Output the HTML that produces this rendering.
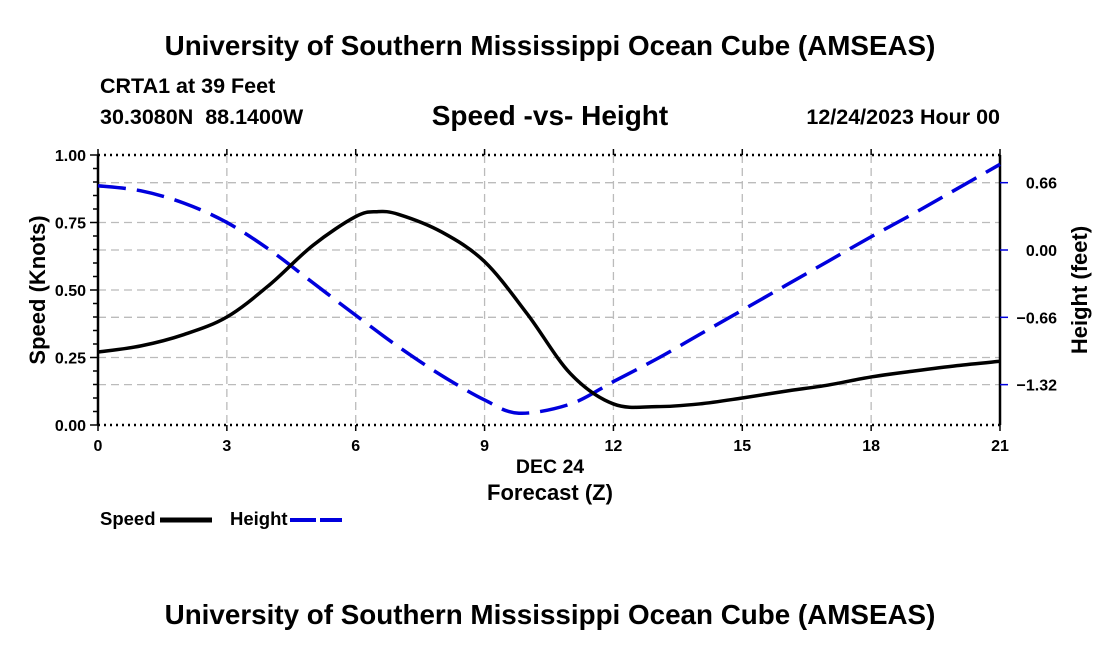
<!DOCTYPE html>
<html><head><meta charset="utf-8"><style>
body{margin:0;background:#fff;}
svg text{font-family:"Liberation Sans",sans-serif;font-weight:bold;fill:#000;white-space:pre;}
</style></head><body>
<svg width="1100" height="650" viewBox="0 0 1100 650">
<text x="550" y="55" text-anchor="middle" font-size="27.8">University of Southern Mississippi Ocean Cube (AMSEAS)</text>
<text x="100" y="93" font-size="21.5">CRTA1 at 39 Feet</text>
<text x="100" y="124" font-size="21.5" xml:space="preserve">30.3080N  88.1400W</text>
<text x="550" y="125" text-anchor="middle" font-size="28">Speed -vs- Height</text>
<text x="1000" y="124" text-anchor="end" font-size="21.5">12/24/2023 Hour 00</text>
<g id="grid"></g>
<g id="axes"></g>
<g id="series"></g>
<text x="550" y="473" text-anchor="middle" font-size="19.5">DEC 24</text>
<text x="550" y="500" text-anchor="middle" font-size="22">Forecast (Z)</text>
<text transform="translate(45,290) rotate(-90)" text-anchor="middle" font-size="22">Speed (Knots)</text>
<text transform="translate(1087,290) rotate(-90)" text-anchor="middle" font-size="22">Height (feet)</text>
<g>
<text x="100" y="525" font-size="18.5">Speed</text>
<line x1="160" y1="520" x2="212" y2="520" stroke="#000" stroke-width="5"/></g>
<g>
<text x="230" y="525" font-size="18.5">Height</text>
<line x1="290" y1="520" x2="342" y2="520" stroke="#0000dd" stroke-width="4" stroke-dasharray="26,4"/></g>
<text x="550" y="624" text-anchor="middle" font-size="27.8">University of Southern Mississippi Ocean Cube (AMSEAS)</text>
</svg>
<script>
const hours=[0,1,2,3,4,5,6,6.5,7,8,9,10,11,12,13,14,15,16,17,18,19,20,21];
const speed=[0.27,0.293,0.335,0.40,0.52,0.665,0.772,0.79,0.78,0.715,0.605,0.41,0.19,0.078,0.068,0.078,0.10,0.125,0.148,0.178,0.20,0.22,0.236];
const heightHours=[0,1,2,3,4,5,6,7,8,9,9.8,11,12,13,14,15,16,17,18,19,20,21];
const heightVals=[0.63,0.58,0.46,0.27,0.0,-0.32,-0.64,-0.95,-1.23,-1.47,-1.60,-1.51,-1.29,-1.07,-0.83,-0.59,-0.35,-0.11,0.13,0.36,0.60,0.84];
const xTicks=[0,3,6,9,12,15,18,21];
const speedTicks=[0,0.25,0.5,0.75,1.0];
const heightTicks=[0.66,0,-0.66,-1.32];
const X0=98,X1=1000,Y0=425,Y1=155;
const x=h=>X0+(h/21)*(X1-X0);
const ys=v=>Y0-v*(Y0-Y1);
const yh=v=>250-v*102;
const NS="http://www.w3.org/2000/svg";
function mk(parent,tag,attrs){const e=document.createElementNS(NS,tag);for(const k in attrs)e.setAttribute(k,attrs[k]);document.getElementById(parent).appendChild(e);return e;}
function smooth(pts){let d='M'+pts[0][0]+','+pts[0][1];for(let i=0;i<pts.length-1;i++){const p0=pts[Math.max(0,i-1)],p1=pts[i],p2=pts[i+1],p3=pts[Math.min(pts.length-1,i+2)];
const c1=[p1[0]+(p2[0]-p0[0])/6,p1[1]+(p2[1]-p0[1])/6],c2=[p2[0]-(p3[0]-p1[0])/6,p2[1]-(p3[1]-p1[1])/6];
d+=' C'+c1[0]+','+c1[1]+' '+c2[0]+','+c2[1]+' '+p2[0]+','+p2[1];}return d;}
xTicks.forEach(t=>{if(t>0&&t<21){const g=mk('grid','line',{x1:x(t),x2:x(t),y1:Y1,y2:Y0,stroke:'#bbb','stroke-width':1.3,'stroke-dasharray':'8,5'});

}});
speedTicks.forEach(t=>{if(t>0&&t<1){const g=mk('grid','line',{x1:X0,x2:X1,y1:ys(t),y2:ys(t),stroke:'#bbb','stroke-width':1.3,'stroke-dasharray':'8,5'});

}});
heightTicks.forEach(t=>{const g=mk('grid','line',{x1:X0,x2:X1,y1:yh(t),y2:yh(t),stroke:'#bbb','stroke-width':1.3,'stroke-dasharray':'8,5'});

});
[[X0,Y1,X0,Y0,'none'],[X1,Y1,X1,Y0,'none'],[X0,Y1,X1,Y1,'2,4'],[X0,Y0,X1,Y0,'2,4']].forEach(a=>{const l=mk('axes','line',{x1:a[0],y1:a[1],x2:a[2],y2:a[3],stroke:'#000','stroke-width':2.5,'stroke-dasharray':a[4]});

});
for(let v=0;v<=1.001;v+=0.05){const l=mk('axes','line',{x1:X0-(Math.abs(v*4-Math.round(v*4))<0.01?8:5),x2:X0,y1:ys(v),y2:ys(v),stroke:'#000','stroke-width':1.5});

}
speedTicks.forEach(t=>{const e=mk('axes','text',{x:X0-12,y:ys(t)+6,'text-anchor':'end','font-size':16});e.textContent=t.toFixed(2);

});
heightTicks.forEach(t=>{const l=mk('axes','line',{x1:X1,x2:X1+8,y1:yh(t),y2:yh(t),stroke:'#0000dd','stroke-width':1.5});


const e=mk('axes','text',{x:1057,y:yh(t)+6,'text-anchor':'end','font-size':16});e.textContent=(t<0?'\u2212'+(-t).toFixed(2):t.toFixed(2));

});
xTicks.forEach(t=>{const l=mk('axes','line',{x1:x(t),x2:x(t),y1:Y0,y2:Y0+6,stroke:'#000','stroke-width':1.5});


const l2=mk('axes','line',{x1:x(t),x2:x(t),y1:Y1-6,y2:Y1,stroke:'#000','stroke-width':1.5});


const e=mk('axes','text',{x:x(t),y:Y0+26,'text-anchor':'middle','font-size':16});e.textContent=t;

});
const hp=mk('series','path',{d:smooth(heightHours.map((h,i)=>[x(h),yh(heightVals[i])])),fill:'none',stroke:'#0000dd','stroke-width':3.5,'stroke-dasharray':'28,11'});


const sp=mk('series','path',{d:smooth(hours.map((h,i)=>[x(h),ys(speed[i])])),fill:'none',stroke:'#000','stroke-width':3.5,'stroke-linejoin':'round'});


</script>
</body></html>
